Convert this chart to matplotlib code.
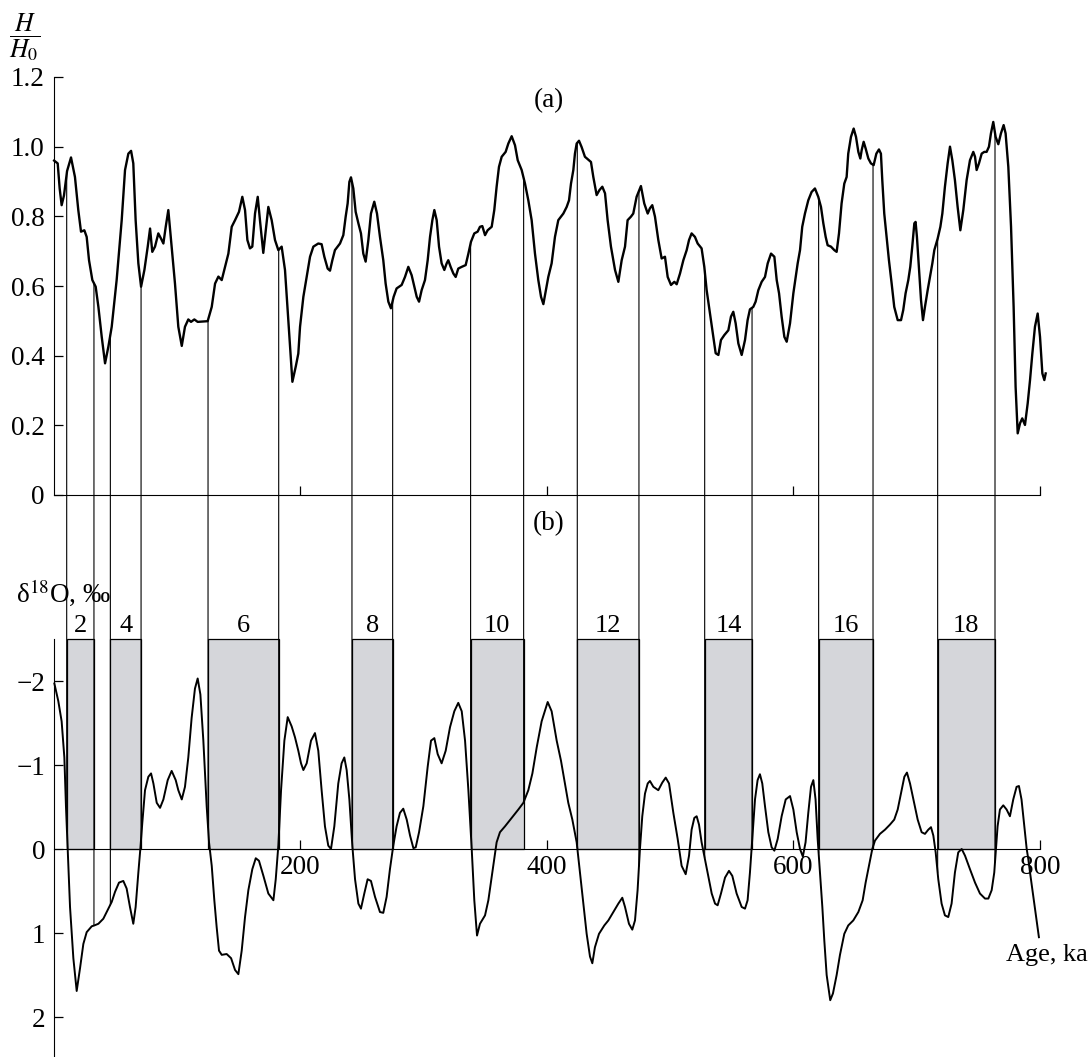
import numpy as np
import matplotlib
matplotlib.use('Agg')
import matplotlib.pyplot as plt
from matplotlib.patches import ConnectionPatch

plt.rcParams['font.family'] = ['Liberation Serif', 'DejaVu Serif']
plt.rcParams['mathtext.fontset'] = 'stix'

# (a) relative paleointensity H/H0 vs age (ka)
h_age = [0.5, 3.4, 5.0, 6.6, 8.5, 11.0, 14.2, 17.4, 20.1, 22.3, 25.0, 26.9, 28.8, 31.5, 34.2, 36.4,
         39.1, 41.8, 44.5, 47.2, 51.2, 55.3, 58.0, 60.7, 62.9, 64.7, 66.6, 68.8, 71.0, 73.7, 76.4,
         78.3, 80.1, 82.3, 85.0, 87.2, 89.1, 91.0, 93.1, 95.8, 98.5, 101.2, 104.0, 106.6, 109.3,
         111.5, 114.2, 116.9, 125.0, 128.3, 131.0, 133.7, 136.4, 139.1, 141.8, 144.5, 147.2, 150.4,
         153.1, 155.3, 157.2, 159.3, 161.2, 163.4, 165.6, 167.4, 170.1, 172.1, 174.2, 176.9, 179.6,
         182.3, 185.0, 187.7, 190.4, 193.7, 196.5, 198.5, 199.9, 202.6, 205.3, 208.0, 210.7, 214.7,
         217.4, 219.6, 222.3, 224.2, 226.1, 228.2, 232.3, 235.0, 236.9, 238.5, 239.9, 241.2, 243.1,
         245.0, 247.2, 249.3, 251.2, 253.1, 255.3, 257.4, 260.1, 262.3, 264.7, 267.4, 269.3, 271.5,
         273.6, 275.8, 278.2, 282.3, 285.0, 287.7, 290.4, 292.6, 294.5, 296.4, 298.5, 301.2, 303.4,
         305.3, 307.2, 308.8, 310.7, 312.6, 314.7, 316.9, 318.8, 320.1, 322.0, 324.2, 326.1, 328.2,
         331.0, 334.2, 336.4, 338.5, 341.2, 343.9, 345.8, 347.7, 349.9, 352.0, 355.3, 357.4, 359.3,
         361.2, 363.4, 366.6, 368.8, 371.5, 374.2, 376.4, 379.6, 382.3, 385.0, 387.7, 390.4, 393.1,
         395.3, 397.2, 401.2, 403.9, 406.6, 409.3, 413.4, 416.1, 418.0, 419.6, 421.5, 422.8, 424.2,
         426.1, 428.2, 430.9, 435.8, 437.7, 440.4, 442.6, 445.0, 447.2, 449.3, 452.0, 455.3, 458.0,
         460.7, 463.4, 465.5, 468.2, 470.1, 472.8, 476.3, 479.0, 481.8, 483.6, 485.5, 487.7, 490.4,
         493.1, 495.8, 498.0, 500.7, 503.4, 505.3, 508.0, 510.7, 513.4, 515.3, 517.4, 520.1, 522.3,
         525.5, 527.7, 529.6, 532.3, 535.0, 536.9, 539.1, 541.2, 543.9, 547.2, 549.3, 551.2, 553.1,
         555.3, 558.0, 560.7, 562.8, 564.7, 567.4, 569.3, 571.5, 574.2, 576.9, 579.1, 581.8, 584.5,
         586.4, 588.3, 590.4, 592.6, 594.5, 597.2, 599.9, 603.4, 605.3, 607.1, 609.3, 612.0, 614.7,
         617.4, 620.1, 622.3, 624.2, 626.1, 627.7, 630.4, 633.1, 635.0, 636.9, 639.0, 641.2, 643.1,
         644.4, 646.6, 648.8, 650.7, 652.6, 654.2, 655.3, 656.9, 658.5, 660.7, 662.8, 665.0, 667.2,
         669.3, 670.9, 672.0, 673.6, 675.5, 677.4, 679.6, 681.7, 684.5, 687.2, 689.0, 690.9, 693.1,
         694.7, 696.3, 698.0, 699.0, 700.1, 701.8, 703.4, 705.0, 706.6, 708.8, 710.7, 712.6, 714.2,
         716.9, 719.1, 720.7, 722.8, 725.0, 726.9, 728.8, 730.9, 733.1, 735.3, 737.7, 740.4, 743.1,
         745.8, 747.2, 748.5, 750.4, 752.6, 754.7, 756.6, 758.5, 760.1, 762.0, 763.9, 766.1, 768.2,
         770.4, 772.0, 774.2, 776.4, 778.5, 780.1, 781.8, 783.7, 785.5, 787.7, 789.9, 791.8, 793.7,
         795.8, 798.0, 799.9, 801.8, 803.4, 804.5]
h_val = [0.960, 0.952, 0.880, 0.832, 0.860, 0.930, 0.969, 0.913, 0.818, 0.756, 0.760, 0.741, 0.674,
         0.617, 0.598, 0.540, 0.454, 0.378, 0.426, 0.483, 0.617, 0.789, 0.933, 0.980, 0.988, 0.952,
         0.789, 0.665, 0.598, 0.646, 0.713, 0.765, 0.698, 0.713, 0.751, 0.736, 0.722, 0.770, 0.818,
         0.713, 0.607, 0.483, 0.428, 0.483, 0.504, 0.497, 0.504, 0.497, 0.499, 0.540, 0.607, 0.627,
         0.617, 0.655, 0.693, 0.770, 0.789, 0.813, 0.856, 0.818, 0.732, 0.708, 0.713, 0.808, 0.856,
         0.789, 0.695, 0.760, 0.827, 0.789, 0.732, 0.703, 0.713, 0.646, 0.502, 0.325, 0.370, 0.406,
         0.483, 0.569, 0.626, 0.684, 0.713, 0.722, 0.720, 0.684, 0.650, 0.644, 0.674, 0.703, 0.722,
         0.746, 0.799, 0.837, 0.899, 0.912, 0.880, 0.813, 0.780, 0.751, 0.693, 0.670, 0.732, 0.808,
         0.842, 0.808, 0.741, 0.674, 0.607, 0.555, 0.536, 0.569, 0.593, 0.603, 0.626, 0.655, 0.631,
         0.598, 0.569, 0.555, 0.588, 0.617, 0.674, 0.741, 0.789, 0.818, 0.789, 0.713, 0.665, 0.646,
         0.665, 0.674, 0.655, 0.636, 0.626, 0.650, 0.655, 0.660, 0.693, 0.727, 0.751, 0.756, 0.770,
         0.772, 0.746, 0.760, 0.770, 0.818, 0.885, 0.942, 0.971, 0.985, 1.009, 1.030, 1.004, 0.961,
         0.933, 0.894, 0.846, 0.789, 0.693, 0.617, 0.569, 0.548, 0.626, 0.665, 0.741, 0.789, 0.808,
         0.827, 0.846, 0.894, 0.933, 0.980, 1.009, 1.017, 0.999, 0.971, 0.956, 0.913, 0.861, 0.875,
         0.885, 0.866, 0.789, 0.713, 0.646, 0.612, 0.674, 0.713, 0.789, 0.799, 0.808, 0.856, 0.887,
         0.837, 0.808, 0.823, 0.832, 0.799, 0.732, 0.679, 0.684, 0.626, 0.603, 0.612, 0.605, 0.636,
         0.674, 0.703, 0.732, 0.751, 0.741, 0.722, 0.708, 0.655, 0.588, 0.521, 0.454, 0.407, 0.402,
         0.445, 0.459, 0.473, 0.512, 0.526, 0.493, 0.435, 0.402, 0.445, 0.502, 0.533, 0.540, 0.555,
         0.588, 0.612, 0.626, 0.665, 0.693, 0.684, 0.617, 0.579, 0.512, 0.454, 0.440, 0.493, 0.579,
         0.665, 0.703, 0.770, 0.808, 0.846, 0.870, 0.880, 0.856, 0.827, 0.780, 0.741, 0.717, 0.713,
         0.703, 0.698, 0.751, 0.837, 0.894, 0.913, 0.980, 1.028, 1.052, 1.028, 0.985, 0.966, 0.990,
         1.014, 0.995, 0.966, 0.952, 0.947, 0.980, 0.992, 0.980, 0.904, 0.808, 0.741, 0.674, 0.607,
         0.540, 0.502, 0.502, 0.531, 0.579, 0.617, 0.655, 0.713, 0.780, 0.784, 0.741, 0.646, 0.560,
         0.502, 0.540, 0.588, 0.626, 0.665, 0.703, 0.736, 0.770, 0.808, 0.885, 0.952, 1.000, 0.961,
         0.904, 0.827, 0.760, 0.818, 0.904, 0.961, 0.985, 0.971, 0.933, 0.952, 0.980, 0.985, 0.985,
         1.000, 1.038, 1.071, 1.028, 1.007, 1.038, 1.062, 1.038, 0.942, 0.770, 0.540, 0.311, 0.177,
         0.206, 0.220, 0.201, 0.263, 0.330, 0.407, 0.483, 0.521, 0.454, 0.349, 0.330, 0.349]

# (b) oxygen isotope curve, delta18O (permil) vs age (ka)
d_age = [0.7, 3.9, 6.6, 8.8, 10.1, 11.5, 13.4, 16.1, 18.8, 21.5, 24.2, 26.9, 31.0, 33.1, 36.4, 40.4,
         44.5, 47.2, 49.9, 53.1, 56.6, 59.3, 62.0, 64.7, 66.6, 68.8, 70.4, 72.0, 74.2, 76.9, 79.1,
         81.0, 83.7, 86.4, 89.1, 92.6, 95.8, 99.1, 101.2, 104.0, 106.6, 109.3, 112.0, 114.7, 116.9,
         119.1, 121.5, 124.2, 126.1, 128.3, 130.4, 132.3, 134.2, 136.4, 140.4, 144.0, 147.2, 149.9,
         152.6, 155.3, 158.0, 161.2, 164.0, 166.6, 170.2, 174.2, 178.3, 180.2, 182.3, 184.5, 187.2,
         189.9, 193.1, 195.8, 198.5, 200.7, 202.6, 205.3, 208.8, 212.0, 214.7, 217.4, 220.1, 222.8,
         225.0, 227.7, 230.9, 233.6, 235.8, 237.7, 239.9, 242.3, 244.5, 247.2, 249.3, 252.0, 254.7,
         257.4, 260.7, 264.7, 267.4, 270.1, 272.8, 275.5, 278.2, 280.9, 283.6, 286.4, 289.1, 291.8,
         293.7, 296.4, 299.9, 303.4, 306.1, 308.8, 311.5, 314.7, 318.0, 321.5, 325.0, 328.2, 331.0,
         333.7, 336.4, 339.1, 341.2, 343.4, 345.8, 349.9, 352.6, 356.6, 359.3, 362.0, 366.1, 371.5,
         376.9, 381.0, 385.0, 388.3, 391.8, 395.8, 400.7, 403.9, 408.0, 411.5, 414.7, 417.4, 420.7,
         424.2, 426.9, 429.6, 432.3, 435.0, 436.9, 439.0, 442.3, 446.6, 449.9, 453.9, 458.0, 461.2,
         463.4, 466.6, 469.3, 471.5, 473.6, 475.5, 477.4, 479.6, 481.8, 483.6, 486.4, 490.4, 493.6,
         496.4, 499.1, 502.6, 506.1, 509.3, 512.6, 515.3, 517.4, 519.6, 521.5, 523.4, 525.5, 528.2,
         530.9, 533.7, 536.4, 538.5, 541.2, 544.5, 547.7, 550.4, 553.9, 558.0, 560.7, 562.8, 564.7,
         566.6, 568.8, 570.9, 572.8, 574.7, 576.9, 579.6, 582.3, 584.5, 587.2, 590.4, 593.7, 597.2,
         599.9, 602.6, 605.3, 607.6, 609.8, 612.0, 614.2, 616.1, 617.9, 619.6, 621.5, 623.4, 625.0,
         626.9, 629.8, 632.0, 635.0, 637.7, 641.2, 644.4, 648.5, 652.6, 656.1, 658.5, 661.2, 663.9,
         666.1, 670.1, 674.2, 678.2, 681.7, 684.5, 687.7, 689.9, 692.0, 694.5, 697.2, 700.7, 703.9,
         706.6, 709.3, 711.5, 713.4, 715.3, 717.4, 720.1, 722.8, 725.5, 728.2, 730.9, 733.6, 736.4,
         739.1, 743.1, 747.2, 751.2, 755.3, 758.0, 760.7, 762.8, 764.2, 765.5, 767.4, 770.1, 772.8,
         775.5, 778.2, 780.9, 782.8, 784.9, 787.2, 789.1, 790.4, 791.8, 795.0, 799.0]
d_val = [-1.97, -1.76, -1.52, -1.09, -0.51, 0.00, 0.69, 1.30, 1.69, 1.42, 1.13, 0.99, 0.92, 0.91,
         0.89, 0.83, 0.71, 0.63, 0.51, 0.40, 0.38, 0.47, 0.69, 0.89, 0.69, 0.28, 0.00, -0.31, -0.70,
         -0.86, -0.90, -0.78, -0.55, -0.49, -0.59, -0.82, -0.93, -0.82, -0.70, -0.59, -0.74, -1.09,
         -1.56, -1.91, -2.03, -1.84, -1.29, -0.51, -0.08, 0.20, 0.61, 0.93, 1.21, 1.26, 1.25, 1.30,
         1.44, 1.49, 1.21, 0.81, 0.49, 0.24, 0.11, 0.14, 0.32, 0.53, 0.61, 0.36, -0.04, -0.70, -1.29,
         -1.57, -1.46, -1.33, -1.17, -1.02, -0.94, -1.02, -1.29, -1.38, -1.17, -0.70, -0.27, -0.04,
         0.00, -0.27, -0.78, -1.02, -1.09, -0.94, -0.59, -0.04, 0.36, 0.65, 0.71, 0.53, 0.36, 0.38,
         0.57, 0.75, 0.76, 0.57, 0.24, -0.04, -0.27, -0.43, -0.48, -0.35, -0.16, -0.01, -0.02, -0.20,
         -0.51, -0.98, -1.29, -1.32, -1.13, -1.02, -1.17, -1.45, -1.64, -1.74, -1.64, -1.29, -0.70,
         0.00, 0.61, 1.03, 0.89, 0.79, 0.61, 0.20, -0.08, -0.20, -0.27, -0.37, -0.47, -0.55, -0.70,
         -0.90, -1.21, -1.52, -1.75, -1.64, -1.29, -1.05, -0.78, -0.55, -0.35, -0.08, 0.28, 0.65,
         1.01, 1.28, 1.36, 1.17, 1.01, 0.91, 0.85, 0.75, 0.65, 0.58, 0.69, 0.89, 0.96, 0.85, 0.49,
         0.00, -0.39, -0.66, -0.78, -0.81, -0.74, -0.70, -0.79, -0.85, -0.78, -0.43, -0.12, 0.20,
         0.30, 0.08, -0.23, -0.37, -0.39, -0.29, -0.08, 0.12, 0.32, 0.53, 0.65, 0.67, 0.53, 0.34,
         0.26, 0.32, 0.53, 0.69, 0.71, 0.61, 0.28, -0.12, -0.59, -0.82, -0.89, -0.78, -0.51, -0.20,
         -0.02, 0.02, -0.12, -0.39, -0.59, -0.63, -0.47, -0.20, 0.00, 0.09, -0.08, -0.43, -0.74,
         -0.82, -0.59, -0.12, 0.28, 0.69, 1.09, 1.50, 1.80, 1.72, 1.50, 1.26, 1.01, 0.91, 0.85, 0.75,
         0.61, 0.40, 0.20, 0.00, -0.10, -0.18, -0.23, -0.29, -0.35, -0.47, -0.70, -0.86, -0.91,
         -0.78, -0.59, -0.35, -0.20, -0.18, -0.23, -0.26, -0.16, 0.04, 0.36, 0.65, 0.79, 0.81, 0.65,
         0.28, 0.04, 0.00, 0.08, 0.24, 0.40, 0.53, 0.59, 0.59, 0.49, 0.28, 0.00, -0.27, -0.47, -0.52,
         -0.47, -0.39, -0.59, -0.74, -0.75, -0.59, -0.27, 0.00, 0.12, 0.28, 0.62, 1.05]

# glacial stages (even MIS) boundaries, ka
stage_num = [2, 4, 6, 8, 10, 12, 14, 16, 18]
stage_start = [10.7, 46.1, 125.3, 242.0, 338.2, 424.7, 528.0, 620.4, 716.9]
stage_end = [32.8, 71.0, 182.6, 275.0, 381.2, 474.7, 566.4, 664.5, 763.4]

W, H = 1089, 1057
fig = plt.figure(figsize=(W / 100, H / 100), dpi=100)
left = 53.5 / W
width = 810 * 1.2333 / W
ax_a = fig.add_axes([left, 1 - 495 / H, width, 418 / H])
ax_b = fig.add_axes([left, 0, width, 418 / H])

fs = 19.5

# ---- panel (a)
ax_a.plot(h_age, h_val, color='k', lw=1.7, clip_on=False, zorder=3)
ax_a.set_xlim(0, 810)
ax_a.set_ylim(0, 1.2)
for s in ['top', 'right']:
    ax_a.spines[s].set_visible(False)
ax_a.spines['left'].set_bounds(0, 1.2)
ax_a.spines['bottom'].set_bounds(0, 800)
ax_a.set_xticks([200, 400, 600, 800])
ax_a.set_xticklabels([])
ax_a.set_yticks([0, 0.2, 0.4, 0.6, 0.8, 1.0, 1.2])
ax_a.set_yticklabels(['0', '0.2', '0.4', '0.6', '0.8', '1.0', '1.2'])
ax_a.tick_params(direction='in', length=6.5, width=0.9, labelsize=fs, pad=6.5)
ax_a.patch.set_alpha(0)

# ---- panel (b)
ax_b.bar([(s + e) / 2 for s, e in zip(stage_start, stage_end)], [-2.5] * len(stage_num),
         width=[e - s for s, e in zip(stage_start, stage_end)], bottom=0,
         color='#d5d6da', edgecolor='k', linewidth=0.9, clip_on=False, zorder=1)
for n, s, e in zip(stage_num, stage_start, stage_end):
    ax_b.text((s + e) / 2, -2.58, str(n), ha='center', va='baseline', fontsize=19)
ax_b.plot(d_age, d_val, color='k', lw=1.4, clip_on=False, zorder=3)
ax_b.set_xlim(0, 810)
ax_b.set_ylim(2.476, -2.5)
for s in ['top', 'right']:
    ax_b.spines[s].set_visible(False)
ax_b.spines['bottom'].set_position(('data', 0))
ax_b.spines['bottom'].set_bounds(0, 800)
ax_b.spines['bottom'].set_zorder(2)
ax_b.set_xticks([200, 400, 600, 800])
ax_b.set_xticklabels(['200', '400', '600', '800'])
ax_b.set_yticks([-2, -1, 0, 1, 2])
ax_b.tick_params(direction='in', length=6.5, width=0.9, labelsize=fs)
ax_b.tick_params(axis='y', pad=6)
ax_b.tick_params(axis='x', pad=4)
for lab in ax_b.get_xticklabels():
    lab.set_bbox(dict(facecolor='white', edgecolor='none', pad=0))
ax_b.patch.set_alpha(0)

# connecting lines between stage boundaries
for s, e in zip(stage_start, stage_end):
    for a in (s, e):
        con = ConnectionPatch(xyA=(a, np.interp(a, h_age, h_val)), coordsA='data', axesA=ax_a,
                              xyB=(a, np.interp(a, d_age, d_val)), coordsB='data', axesB=ax_b,
                              color='k', lw=0.8, zorder=0.5)
        fig.add_artist(con)

# labels
fig.text(25 / W, 1 - 37 / H, r'$\dfrac{H}{H_0}$', ha='center', va='center', fontsize=18.5)
fig.text(549 / W, 1 - 101 / H, '(a)', ha='center', va='center', fontsize=fs)
fig.text(549 / W, 1 - 524 / H, '(b)', ha='center', va='center', fontsize=fs)
fig.text(16 / W, 1 - 593 / H, r'δ$^{18}$O, ‰', ha='left', va='center', fontsize=fs)
fig.text(1088 / W, 1 - 955 / H, 'Age, ka', ha='right', va='center', fontsize=19)

fig.savefig('out.png', dpi=100)
